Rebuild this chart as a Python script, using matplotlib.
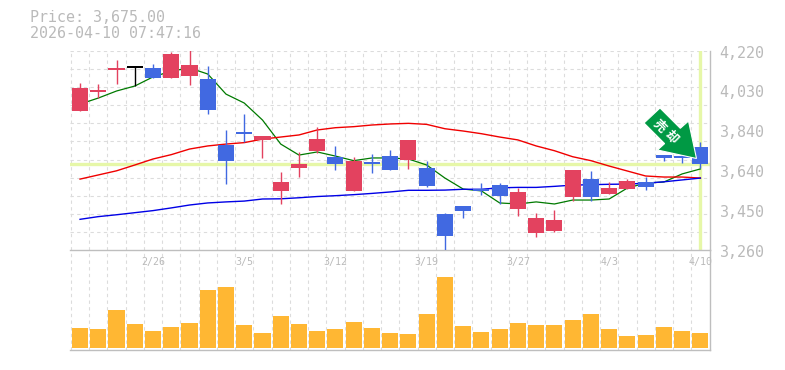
import numpy as np
import matplotlib
matplotlib.use("Agg")
import matplotlib.pyplot as plt
from matplotlib.patches import Polygon

W, H = 785, 370
TEXT, GRID, FRAME = "#BABABA", "#DCDCDC", "#BEBEBE"
UP, DOWN, FLAT = "#E3425F", "#4169E1", "#000000"
VOL, MARK, ARROW = "#FFB733", "#E6F7A8", "#009944"

plt.rcParams["font.family"] = ["DejaVu Sans Mono", "Noto Sans CJK JP"]

PRICE = 3675.0
opens = [3930, 4022, 4128, 4138, 4138, 4090, 4099, 4085, 3766, 3829, 3791, 3545,
         3656, 3737, 3709, 3545, 3685, 3713, 3694, 3656, 3434, 3472, 3554, 3573,
         3458, 3342, 3352, 3516, 3602, 3530, 3554, 3588, 3718, 3713, 3757]
highs = [4066, 4061, 4177, 4148, 4157, 4215, 4225, 4148, 3839, 3916, 3810, 3636,
         3733, 3853, 3762, 3709, 3723, 3742, 3791, 3689, 3438, 3472, 3583, 3583,
         3559, 3438, 3453, 3646, 3641, 3588, 3602, 3612, 3718, 3718, 3781]
lows = [3930, 3993, 4061, 4051, 4090, 4090, 4056, 3916, 3578, 3781, 3704, 3482,
        3612, 3728, 3646, 3545, 3631, 3646, 3651, 3564, 3260, 3414, 3525, 3482,
        3424, 3323, 3347, 3496, 3496, 3530, 3554, 3549, 3689, 3680, 3656]
closes = [4040, 4032, 4138, 4138, 4090, 4205, 4152, 3935, 3689, 3820, 3810, 3588,
          3675, 3795, 3675, 3689, 3675, 3646, 3791, 3569, 3327, 3448, 3545, 3520,
          3540, 3414, 3405, 3646, 3516, 3559, 3593, 3564, 3704, 3704, 3675]
ma_short = [3964, 3993, 4027, 4051, 4095, 4123, 4138, 4109, 4012, 3969, 3887, 3771,
            3718, 3733, 3713, 3691, 3704, 3704, 3699, 3670, 3607, 3554, 3545, 3487,
            3482, 3492, 3482, 3501, 3501, 3506, 3559, 3583, 3588, 3627, 3651]
ma_mid = [3602, 3622, 3642, 3670, 3699, 3720, 3747, 3762, 3771, 3778, 3795, 3805,
          3815, 3839, 3850, 3855, 3863, 3868, 3871, 3866, 3845, 3834, 3821, 3805,
          3791, 3762, 3739, 3710, 3691, 3665, 3641, 3617, 3612, 3612, 3607]
ma_long = [3408, 3421, 3430, 3440, 3450, 3463, 3477, 3487, 3492, 3496, 3506, 3507,
           3512, 3518, 3522, 3527, 3533, 3540, 3548, 3548, 3549, 3553, 3553, 3560,
           3562, 3562, 3567, 3573, 3575, 3577, 3578, 3582, 3589, 3598, 3607]
volumes = [20, 19, 38, 24, 17, 21, 25, 58, 61, 23, 15, 32, 24, 17, 19, 26, 20, 15,
           14, 34, 71, 22, 16, 19, 25, 23, 23, 28, 34, 19, 12, 13, 21, 17, 15]
y_ticks = [4220, 4028, 3836, 3644, 3452, 3260]
y_labels = ["4,220", "4,030", "3,840", "3,640", "3,450", "3,260"]
date_pos = [4, 9, 14, 19, 24, 29, 34]
date_labels = ["2/26", "3/5", "3/12", "3/19", "3/27", "4/3", "4/10"]


def panel(fig, top, bottom):
    ax = fig.add_axes([70 / W, 1 - bottom / H, 639.5 / W, (bottom - top) / H])
    ax.patch.set_alpha(0)
    for s in ("top", "left"):
        ax.spines[s].set_visible(False)
    for s in ("bottom", "right"):
        ax.spines[s].set_color(FRAME)
        ax.spines[s].set_linewidth(1.0)
    ax.set_xticks([])
    ax.set_yticks([])
    ax.set_xlim(-0.55, 34.5)
    return ax


def px(x, y):
    return x / W, 1 - y / H


fig = plt.figure(figsize=(W / 100, H / 100), dpi=100, facecolor="white")
ax = panel(fig, 51, 250)
vol = panel(fig, 250, 350)
ax.set_ylim(3260, 4220)
vol.set_ylim(-1.5, 98)

x = np.arange(len(closes))
dash = (0, (3, 3))
for a in (ax, vol):
    a.vlines(np.arange(-0.5, 34.5), 0, 1, transform=a.get_xaxis_transform(),
             color=GRID, lw=0.8, linestyle=dash, zorder=0)
ax.hlines(np.linspace(3260, 4220, 12)[1:], -0.55, 34.5, color=GRID, lw=0.8,
          linestyle=dash, zorder=0)

ax.axhline(PRICE, color=MARK, lw=2.4, zorder=1)
ax.axvline(x[-1], color=MARK, lw=2.4, zorder=1)

ax.plot(x, ma_short, color="#007A00", lw=0.9, zorder=2)
ax.plot(x, ma_mid, color="#F00000", lw=1.0, zorder=2)
ax.plot(x, ma_long, color="#0000E6", lw=1.0, zorder=2)

for i in x:
    o, c = opens[i], closes[i]
    col = FLAT if o == c else (UP if c > o else DOWN)
    ax.vlines(i, lows[i], highs[i], color=col, lw=1.0, zorder=3)
    ax.bar(i, max(abs(c - o), 9.6), bottom=min(o, c), width=0.88, color=col,
           linewidth=0, zorder=3)

vol.bar(x, volumes, width=0.88, color=VOL, linewidth=0, zorder=2)

# signal arrow, drawn over the last candles
arrow = [(660, 108), (644, 123), (664.6, 143.6), (657.5, 150),
         (696.5, 158.5), (688.5, 121), (680.3, 128.3)]
fig.add_artist(Polygon([px(*p) for p in arrow], closed=True, transform=fig.transFigure,
                       facecolor=ARROW, edgecolor="white", linewidth=0.8, zorder=5))
for cx, cy, ch in [(659, 126, "売"), (671.5, 137, "却")]:
    fig.text(*px(cx, cy), ch, color="white", fontsize=9, fontweight="bold",
             rotation=-45, ha="center", va="center", family=["Noto Sans CJK JP"], zorder=6)

fig.text(*px(30, 18), "Price: 3,675.00", color=TEXT, fontsize=10.8, va="center")
fig.text(*px(30, 33), "2026-04-10 07:47:16", color=TEXT, fontsize=10.8, va="center")

for v, lab in zip(y_ticks, y_labels):
    ax.annotate(lab, xy=(1, v), xycoords=ax.get_yaxis_transform(), xytext=(10, -2),
                textcoords="offset pixels", color=TEXT, fontsize=10.8, va="center",
                annotation_clip=False)
for p, lab in zip(date_pos, date_labels):
    vol.annotate(lab, xy=(p, 1), xycoords=vol.get_xaxis_transform(), xytext=(0, -12),
                 textcoords="offset pixels", color=TEXT, fontsize=7.2, ha="center",
                 va="center", annotation_clip=False)

fig.savefig("out.png", dpi=100)
